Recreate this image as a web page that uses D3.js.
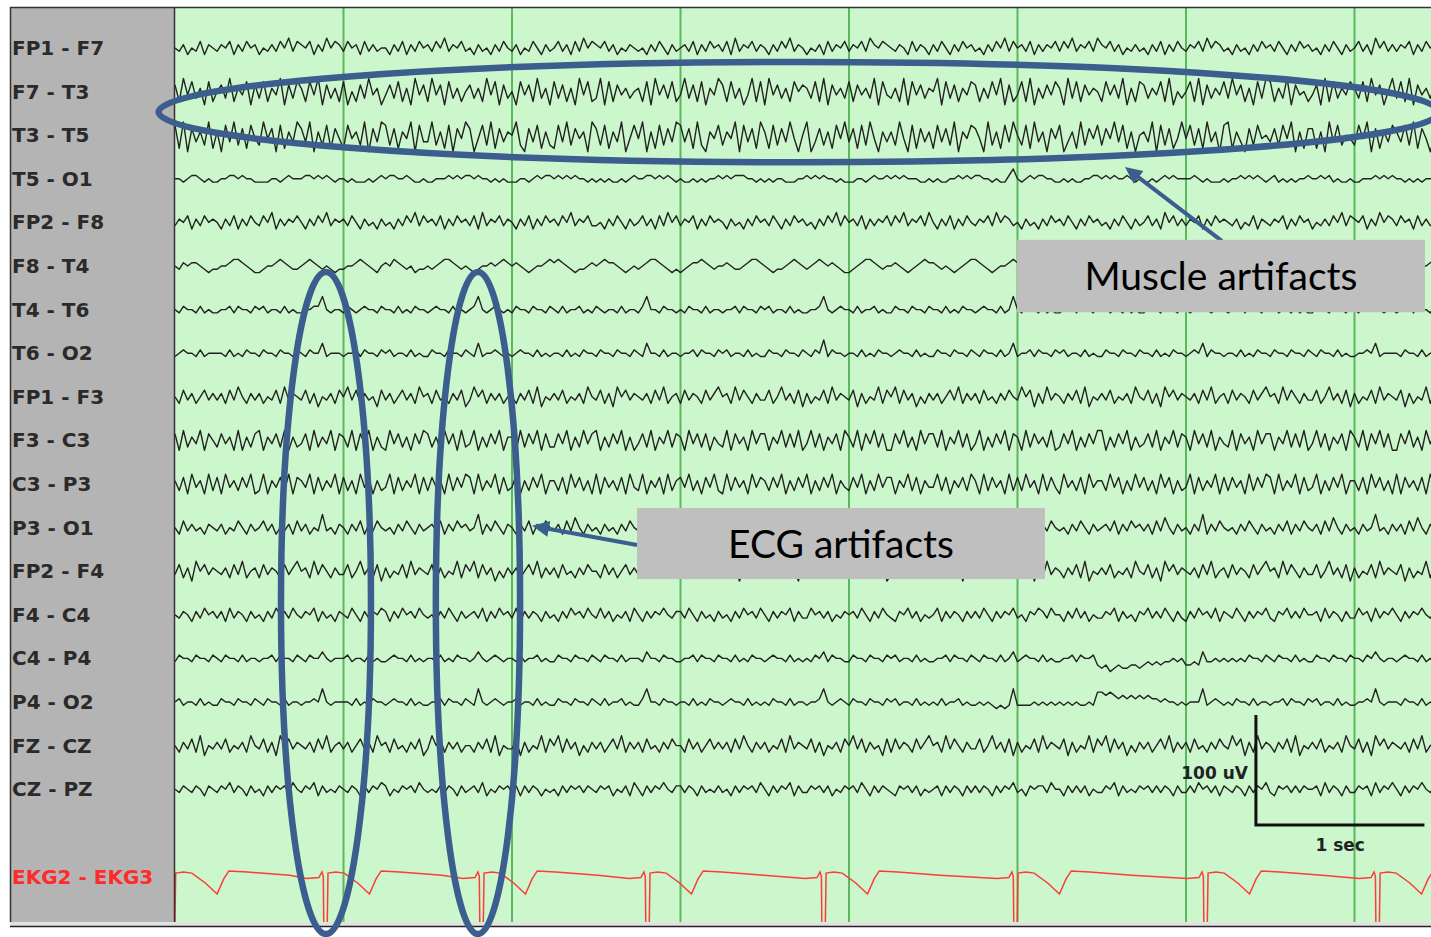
<!DOCTYPE html>
<html>
<head>
<meta charset="utf-8">
<script src="https://cdn.jsdelivr.net/npm/d3@7"></script>
<style>
  body { margin: 0; background: #fff; }
  svg { display: block; }
</style>
</head>
<body>
<svg id="eeg" width="1431" height="937"></svg>
<script>
(function() {

// montage, top to bottom
const channels = ['FP1 - F7', 'F7 - T3', 'T3 - T5', 'T5 - O1', 'FP2 - F8', 'F8 - T4', 'T4 - T6', 'T6 - O2',
  'FP1 - F3', 'F3 - C3', 'C3 - P3', 'P3 - O1', 'FP2 - F4', 'F4 - C4', 'C4 - P4', 'P4 - O2', 'FZ - CZ', 'CZ - PZ'];
const ekgLabel = 'EKG2 - EKG3';

// samples: one digit per sample, 40 samples / s,
// 5 is the baseline and every step is 3 uV
const sampleRate = 40;
const stepUV = 3;

const fp1f7 = '5463547365 4657364756 3546475847 6573648576 4756374645 5364736475 6475846574 5364536475 4635475364 5746374857 6574635465 4536475364 5647364756 4738465746 5364758465 3546374657 4657486576 5465374653 6475364756 4536475847 5647364657 4758465748 6574635464 5364736475 4657485764 5364536475 6475364756 4536475364 5746385746 4657364756';
const f7t3 = '7294836182 5739264817 3826491738 6284917362 8152739461 4738261947 2947183625 7362948173 5184729361 8372619482 3918274635 6281947382 4937281649 7283614928 1947362857 6382917463 8274639184 3629184736 5918372648 7263849172 4829163748 6193827465 2847391628 7364829153 5829173648 3947261839 8263917452 4719283648 6382947159 3829174637';
const t3t5 = '8190736291 6083927184 2947081639 7390628174 1846290739 8271649083 3926180749 7048291736 5920738162 1839274609 7281639048 4906182739 8371920648 2649083719 6182739405 9037261849 3718294063 6294081736 1837290648 7409261839 5281936074 8036192748 2749381605 6390827149 4827193608 9163072845 3728490617 7160938254 2849071638 6382917405';
const t5o1 = '5545665454 4556656554 4445545655 5665656545 5454445456 5665565445 4455565656 6565545454 4455456566 5656565545 4545445456 5566565654 5445454556 5656665545 4545544455 6565655454 4455456556 5656555445 4544556565 6655454468 5456566554 4545445566 5656556545 4454565655 5565454445 4556565654 5645454556 5565645445 4455565656 5545454556';
const fp2f8 = '4657364756 5364736475 4758364657 5364758465 6475364536 4536475847 5647364756 4738465746 5364736475 6475846574 4536475364 5746374857 4657364756 5364536475 6475364756 4536475847 5647364657 4758465748 5364736475 4657485764 5364536475 6475364756 4536475364 5746385746 4657364756 5463547365 4657364756 3546475847 6573648576 4756374645';
const f8t4 = '5465665434 4556776543 3455676544 5676545434 4556765435 6576545344 5456776545 4345565676 5654345567 6765434456 5676654345 4567765434 3456676545 5654456776 5434456765 4567656543 3456776545 5654345676 6545434567 7654345567 6545456776 5434567654 4567765434 3456676545 5676545434 4556765435 6576545344 5456776545 4345565676 5654345567';
const t4t6 = '5465546454 4556465546 5645546454 4556695455 4654565546 5546454655 4565546454 5695456545 4655465546 5464556454 6545546455 4695546554 5465546455 4556465546 5645546454 4556954565 5464556454 4655465546 5546454655 4565546459 5465546454 4556465546 5645546454 4655465546 5456954565 4556465546 5645546454 4655465546 5465595455 4556465546';
const t6o2 = '4565546455 5546454655 4655465546 5465584555 4556465546 5645546454 4655465546 5484556545 4565546454 5546454655 4655465546 5485546455 4556465546 5645546454 4655465546 5465946554 5546454655 4565546454 4655465546 5465546458 4556465546 5645546454 4655465546 5546454655 4565846554 5546454655 4655465546 5465546454 4556584555 5465546455';
const fp1f3 = '5374635746 4637485364 6354738465 4736254637 5847364527 4635746385 6374536472 4857364635 5364738254 6473546385 4736285746 5463748356 3746537468 5638475364 4735846372 6354738465 4726354837 5837462536 4635748364 6374536475 4857263846 5364738254 6473546385 4736285746 5463748356 3746537468 5638475364 4735846372 6354738465 4726354837';
const f3c3 = '7283648275 3746282637 8264738263 4728364827 6382748263 2847362748 7362847283 4826374826 6283748273 3748263847 8263748262 4738264837 6284737264 3827462847 7264837382 4837264728 6382748372 2748362847 7382648372 4826374827 6283746382 3748263748 8263748263 4738264837 6284738264 3827462847 7264837382 4837264728 6382748372 2748362847';
const c3p3 = '6372846283 7284637482 3826473827 6482736482 7362847263 4827364827 3746283748 7283648273 4826374826 6372847362 8274637284 3826472836 7483627483 2837462847 6374826374 8263748264 3748263847 7264837264 4837264738 6283746283 7384628374 2846372846 6384726384 7362847263 4827364827 3746283748 7283648273 4826374826 6372847362 8274637284';
const p3o1 = '5374645365 4635475364 5746354637 4635494536 5364736475 4536475364 5647364756 4593647536 5364736475 4637485364 5364536475 4695364756 5364736475 4536475364 6475364536 4536946375 5364736475 4637485364 5364536475 4536475368 5364736475 4536475364 5647364756 4637485364 5364936475 4536475364 5364736475 4637485364 5364594536 4637485364';
const fp2f4 = '4736285746 5463748356 3746537468 5638475364 4735846372 6354738465 4726354837 5837462536 4635748364 6374536475 5374635746 4637485364 6354738465 4736254637 5847364527 4635746385 6374536472 4857364635 5364738254 6473546385 4857263846 5364738254 6473546385 4736285746 5463748356 3746537468 5638475364 4735846372 6354738465 4726354837';
const f4c4 = '5465364756 4637465364 5364756475 4657364536 5475364657 6364756475 4536475364 5647364756 4736465364 5364756475 4746354637 5364657546 6475364536 4536475647 5364657364 4756463546 5647536475 4365746354 5736465364 6475364657 4536576475 5364746354 4657364536 5746475364 3647564736 5475364657 4365746475 5637465364 4756374657 5364657546';
const c4p4 = '4655465546 5465546455 4556465546 5465575455 5645546454 4565546454 5546454655 4575456545 5464556454 4655465546 5465546455 5475546554 4556465546 5546454655 4565546454 5465746554 4655465546 5645546454 4556465546 5465546457 4565546454 4556465563 2312322332 3434344545 3343744545 4545465546 5465546454 4655465546 5546575455 4565546454';
const p4o2 = '5645546454 4655465546 5465546455 4556595455 5546454655 4565546454 4556465546 5495456545 5645546454 4655465546 5464556454 4695546554 5546454655 4565546454 5465546455 4556954565 4655465546 5645546454 5464556454 4545434349 4444545454 5454544548 8787676767 6766565545 4555945654 5465546455 4556465546 5645546454 4556595455 5465546454';
const fzcz = '5364738254 6473546385 4736285746 5463748356 4635746385 6374536472 4857364635 5364738254 4726354837 5837462536 4635748364 6374536475 5374635746 4637485364 6354738465 4736254637 5847364527 3746537468 5638475364 4735846372 6354738465 4726354837 5837462536 4635748364 6374536475 4857263846 5364738254 6473546385 4736285746 5463748356';
const czpz = '5465465365 4657465364 5364656475 4657364546 5465364657 6354656475 4546465364 5647354656 4636465354 5364656465 4656354637 5364657546 6465364546 4536465647 5364657364 4656463546 5647536465 4365646354 5636465364 6465364657 4536566475 5364646354 4657364546 5646465364 4647564636 5465364657 4365646465 5637465364 4656374657 5364657546';

const eegRows = [fp1f7, f7t3, t3t5, t5o1, fp2f8, f8t4, t4t6, t6o2,
  fp1f3, f3c3, c3p3, p3o1, fp2f4, f4c4, c4p4, p4o2, fzcz, czpz];

// EKG: R-wave times (s) and the shape of one beat (s from R, uV)
const ekgBeats = [-0.02, 0.884, 1.810, 2.795, 3.840, 4.979, 6.107, 7.128];
const beatOffsets = [-0.10, -0.03, -0.012, -0.004, 0.000, 0.018, 0.024, 0.07, 0.12, 0.20, 0.27, 0.31, 0.34, 0.45, 0.70];
const beatUV =      [-2,    -1,     4,      0,     -60,   -60,    3,     4,    3,    -6,  -16,   -2,    5,    4,    1];

const secondMarks = [1, 2, 3, 4, 5, 6, 7];

// ---- layout
const svg = d3.select('#eeg');
const panel = { left: 10, top: 8, split: 175, right: 1431, bottom: 922 };
const ekgRow = 19;

const x = d3.scaleLinear().domain([0, 7.454]).range([panel.split, panel.right]);
const row = d3.scaleLinear().domain([0, 19]).range([48, 876.4]);
const uv = d3.scaleLinear().domain([0, 100]).range([0, 110]);

const annoBlue = '#3b5e8e';

svg.append('defs').append('clipPath').attr('id', 'plotclip')
  .append('rect')
  .attr('x', panel.split).attr('y', panel.top)
  .attr('width', panel.right - panel.split).attr('height', panel.bottom - panel.top);

// backgrounds
svg.append('rect')
  .attr('x', panel.split).attr('y', panel.top)
  .attr('width', panel.right - panel.split).attr('height', panel.bottom - panel.top)
  .attr('fill', '#ccf7cc');
svg.append('rect')
  .attr('x', panel.left).attr('y', panel.top)
  .attr('width', panel.split - panel.left).attr('height', panel.bottom - panel.top)
  .attr('fill', '#b4b4b4');

const plot = svg.append('g').attr('clip-path', 'url(#plotclip)');

// one second grid
plot.selectAll('.sec')
  .data(secondMarks)
  .enter().append('line')
    .attr('class', 'sec')
    .attr('x1', d => x(d)).attr('x2', d => x(d))
    .attr('y1', panel.top).attr('y2', panel.bottom)
    .attr('stroke', '#5cb85c')
    .attr('stroke-width', 2);

// EEG traces
eegRows.forEach(function(s, r) {
  const pts = s.replace(/\s+/g, '').split('').map(function(c, i) {
    return [i / sampleRate, (+c - 5) * stepUV];
  });
  const line = d3.line()
    .x(d => x(d[0]))
    .y(d => row(r) - uv(d[1]));
  plot.append('path')
    .datum(pts)
    .attr('d', line)
    .attr('fill', 'none')
    .attr('stroke', '#222')
    .attr('stroke-width', 1.4)
    .attr('stroke-linejoin', 'round');
});

// EKG trace
const ekgPts = [];
ekgBeats.forEach(function(b) {
  beatOffsets.forEach(function(o, k) { ekgPts.push([b + o, beatUV[k]]); });
});
plot.append('path')
  .datum(ekgPts)
  .attr('d', d3.line().x(d => x(d[0])).y(d => row(ekgRow) - uv(d[1])))
  .attr('fill', 'none')
  .attr('stroke', '#ff3a3a')
  .attr('stroke-width', 1.5);

// channel labels
svg.selectAll('.chan')
  .data(channels)
  .enter().append('text')
    .attr('class', 'chan')
    .attr('x', 12)
    .attr('y', (d, i) => row(i) + 7)
    .attr('font-family', 'DejaVu Sans')
    .attr('font-weight', 'bold')
    .attr('font-size', 20)
    .attr('fill', '#2a2a2a')
    .text(d => d);
svg.append('text')
  .attr('x', 12).attr('y', row(ekgRow) + 8)
  .attr('font-family', 'DejaVu Sans')
  .attr('font-weight', 'bold')
  .attr('font-size', 20)
  .attr('fill', '#ff2a2a')
  .text(ekgLabel);

// frame
svg.append('line').attr('x1', panel.left).attr('x2', panel.right).attr('y1', 7.5).attr('y2', 7.5)
  .attr('stroke', '#333').attr('stroke-width', 1.5);
svg.append('line').attr('x1', 10.5).attr('x2', 10.5).attr('y1', 7).attr('y2', panel.bottom)
  .attr('stroke', '#333').attr('stroke-width', 1.5);
svg.append('line').attr('x1', 174.5).attr('x2', 174.5).attr('y1', 7).attr('y2', panel.bottom)
  .attr('stroke', '#333').attr('stroke-width', 1.5);
svg.append('rect').attr('x', panel.left).attr('y', panel.bottom).attr('width', panel.right - panel.left).attr('height', 4)
  .attr('fill', '#e2e2e2');
svg.append('line').attr('x1', panel.left).attr('x2', panel.right).attr('y1', 926.5).attr('y2', 926.5)
  .attr('stroke', '#222').attr('stroke-width', 1.6);

// calibration bar: 100 uV by 1 sec
const barT = 6.415, barY = 825;
svg.append('path')
  .attr('d', 'M' + x(barT) + ',' + (barY - uv(100)) + 'V' + barY + 'H' + x(barT + 1))
  .attr('fill', 'none')
  .attr('stroke', '#111')
  .attr('stroke-width', 3);
svg.append('text')
  .attr('x', x(barT) - 8).attr('y', barY - uv(100) / 2 + 9)
  .attr('text-anchor', 'end')
  .attr('font-family', 'DejaVu Sans').attr('font-weight', 'bold').attr('font-size', 17)
  .attr('fill', '#222')
  .text('100 uV');
svg.append('text')
  .attr('x', x(barT + 0.5)).attr('y', barY + 26)
  .attr('text-anchor', 'middle')
  .attr('font-family', 'DejaVu Sans').attr('font-weight', 'bold').attr('font-size', 17)
  .attr('fill', '#222')
  .text('1 sec');

// annotations: ellipses in seconds / rows
const rings = [
  { t: 3.703, r: 1.47, dt: 3.80, dr: 1.15 },
  { t: 0.896, r: 12.73, dt: 0.267, dr: 7.59 },
  { t: 1.798, r: 12.73, dt: 0.25, dr: 7.59 }
];
svg.selectAll('.ring')
  .data(rings)
  .enter().append('ellipse')
    .attr('class', 'ring')
    .attr('cx', d => x(d.t))
    .attr('cy', d => row(d.r))
    .attr('rx', d => x(d.t + d.dt) - x(d.t))
    .attr('ry', d => row(d.r + d.dr) - row(d.r))
    .attr('fill', 'none')
    .attr('stroke', annoBlue)
    .attr('stroke-width', 6.5);

function arrow(t0, r0, t1, r1) {
  const x0 = x(t0), y0 = row(r0), x1 = x(t1), y1 = row(r1);
  const a = Math.atan2(y1 - y0, x1 - x0);
  const len = 17, half = 8;
  const bx = x1 - len * Math.cos(a), by = y1 - len * Math.sin(a);
  svg.append('line')
    .attr('x1', x0).attr('y1', y0).attr('x2', bx + 2 * Math.cos(a)).attr('y2', by + 2 * Math.sin(a))
    .attr('stroke', annoBlue).attr('stroke-width', 4);
  svg.append('path')
    .attr('d', 'M' + x1 + ',' + y1 +
      'L' + (bx - half * Math.sin(a)) + ',' + (by + half * Math.cos(a)) +
      'L' + (bx + half * Math.sin(a)) + ',' + (by - half * Math.cos(a)) + 'Z')
    .attr('fill', annoBlue);
}

function callout(t0, t1, r0, r1, label) {
  svg.append('rect')
    .attr('x', x(t0)).attr('y', row(r0))
    .attr('width', x(t1) - x(t0)).attr('height', row(r1) - row(r0))
    .attr('fill', '#bfbfbf');
  svg.append('text')
    .attr('x', (x(t0) + x(t1)) / 2)
    .attr('y', (row(r0) + row(r1)) / 2 + 14)
    .attr('text-anchor', 'middle')
    .attr('font-family', 'Lato')
    .attr('font-size', 39)
    .attr('fill', '#000')
    .text(label);
}

arrow(6.214, 4.43, 5.638, 2.73);
callout(4.997, 7.418, 4.40, 6.06, 'Muscle artifacts');
arrow(2.742, 11.40, 2.119, 10.96);
callout(2.742, 5.163, 10.55, 12.18, 'ECG artifacts');

})();
</script>
</body>
</html>
